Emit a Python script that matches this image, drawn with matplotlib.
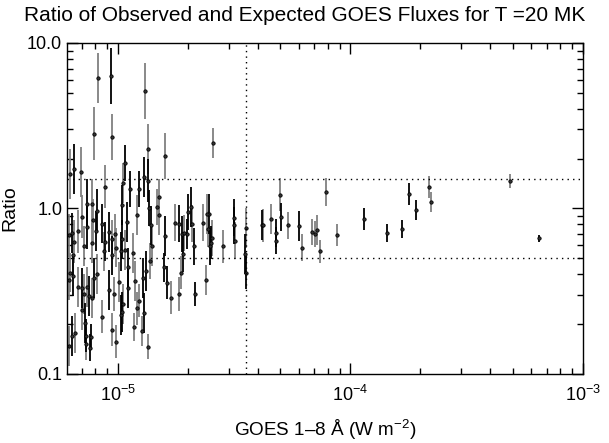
import numpy as np
import matplotlib
matplotlib.use("Agg")
import matplotlib.pyplot as plt
from matplotlib.ticker import LogLocator, FixedLocator, NullFormatter

plt.rcParams['font.family'] = ['Liberation Sans', 'DejaVu Sans']
plt.rcParams['mathtext.fontset'] = 'custom'
plt.rcParams['mathtext.rm'] = 'Liberation Sans'
plt.rcParams['mathtext.it'] = 'Liberation Sans'

# flare set drawn with black error bars: GOES flux (W m^-2), ratio, log10 error
flux_a = [9.33e-6, 6.47e-6, 1.07e-5, 1.04e-5, 1.13e-5, 1.23e-5, 1.29e-5, 1.35e-5,
          7.36e-6, 1.36e-5, 2.06e-5, 2.00e-5, 1.98e-5, 1.79e-4, 8.13e-6, 7.36e-6,
          6.35e-6, 8.05e-6, 8.54e-6, 8.79e-6, 9.15e-6, 9.42e-6, 1.09e-5, 1.03e-5,
          1.39e-5, 1.59e-5, 1.83e-5, 1.88e-5, 2.12e-5, 1.90e-5, 2.46e-5, 2.48e-5,
          3.15e-5, 3.15e-5, 3.51e-5, 3.55e-5, 4.15e-5, 4.77e-5, 4.81e-5, 5.01e-5,
          6.04e-5, 1.14e-4, 1.44e-4, 1.67e-4, 1.92e-4, 6.47e-4, 1.04e-5, 2.51e-5,
          6.41e-6, 7.01e-6, 7.51e-6, 7.89e-6, 7.21e-6, 6.35e-6, 7.29e-6, 7.58e-6,
          7.66e-6, 9.15e-6, 1.03e-5, 1.04e-5, 1.10e-5, 1.10e-5, 1.28e-5, 1.32e-5,
          1.58e-5, 1.62e-5, 2.14e-5, 1.29e-5]
ratio_a = [6.32, 1.73, 1.88, 1.05, 1.31, 1.31, 1.55, 1.47,
           1.06, 1.01, 1.02, 0.95, 0.70, 1.22, 0.966, 0.77,
           0.71, 0.73, 0.81, 0.63, 0.72, 0.52, 0.83, 0.55,
           0.79, 0.68, 0.81, 0.70, 0.59, 0.53, 0.93, 0.59,
           0.88, 0.79, 0.53, 0.41, 0.79, 0.71, 0.64, 0.89,
           0.78, 0.86, 0.71, 0.75, 0.98, 0.66, 0.65, 0.62,
           0.39, 0.33, 0.296, 0.38, 0.203, 0.17, 0.17, 0.144,
           0.167, 0.32, 0.227, 0.237, 0.33, 0.44, 0.38, 0.42,
           0.44, 0.355, 0.304, 0.234]
err_a = [0.17, 0.15, 0.11, 0.12, 0.11, 0.11, 0.12, 0.13,
         0.15, 0.11, 0.12, 0.11, 0.09, 0.066, 0.13, 0.13,
         0.12, 0.12, 0.12, 0.12, 0.12, 0.12, 0.12, 0.12,
         0.12, 0.12, 0.11, 0.11, 0.11, 0.11, 0.12, 0.11,
         0.11, 0.11, 0.12, 0.10, 0.09, 0.085, 0.08, 0.085,
         0.09, 0.066, 0.055, 0.055, 0.06, 0.02, 0.12, 0.10,
         0.12, 0.12, 0.12, 0.12, 0.12, 0.12, 0.10, 0.08,
         0.08, 0.12, 0.12, 0.12, 0.12, 0.12, 0.12, 0.12,
         0.09, 0.10, 0.07, 0.12]

# flare set drawn with grey error bars
flux_b = [8.21e-6, 7.89e-6, 9.42e-6, 1.31e-5, 1.35e-5, 1.59e-5, 2.56e-5, 6.22e-6,
          6.94e-6, 1.05e-5, 8.79e-6, 1.50e-5, 7.73e-6, 7.82e-5, 4.96e-5, 2.18e-4,
          4.86e-4, 2.23e-4, 7.01e-6, 7.81e-6, 6.74e-6, 6.47e-6, 6.16e-6, 7.15e-6,
          7.73e-6, 8.71e-6, 9.42e-6, 1.21e-5, 9.80e-6, 1.07e-5, 1.16e-5, 1.40e-5,
          1.48e-5, 1.51e-5, 1.76e-5, 1.92e-5, 2.08e-5, 2.32e-5, 2.41e-5, 2.43e-5,
          2.53e-5, 2.82e-5, 3.18e-5, 3.55e-5, 4.23e-5, 4.54e-5, 5.37e-5, 6.17e-5,
          6.81e-5, 7.08e-5, 7.16e-5, 7.37e-5, 8.80e-5, 9.71e-6, 6.41e-6, 1.37e-5,
          6.22e-6, 6.16e-6, 6.74e-6, 7.36e-6, 7.15e-6, 7.73e-6, 8.13e-6, 7.01e-6,
          6.53e-6, 6.16e-6, 7.29e-6, 8.54e-6, 9.61e-6, 9.42e-6, 9.80e-6, 1.01e-5,
          1.05e-5, 1.19e-5, 1.17e-5, 1.21e-5, 1.23e-5, 1.27e-5, 1.35e-5, 1.69e-5,
          1.83e-5, 1.86e-5, 2.39e-5]
ratio_b = [6.14, 2.82, 2.70, 5.13, 2.29, 2.08, 2.49, 1.62,
           1.66, 1.43, 1.35, 1.17, 1.06, 1.26, 1.21, 1.35,
           1.47, 1.09, 0.89, 0.85, 0.73, 0.63, 0.69, 0.59,
           0.62, 0.55, 0.65, 0.91, 0.58, 0.56, 0.54, 0.59,
           1.02, 0.91, 0.82, 0.71, 0.81, 0.82, 0.93, 0.75,
           0.66, 0.59, 0.64, 0.76, 0.79, 0.86, 0.79, 0.58,
           0.72, 0.70, 0.74, 0.55, 0.69, 0.70, 0.52, 0.48,
           0.41, 0.37, 0.336, 0.336, 0.304, 0.288, 0.40, 0.244,
           0.177, 0.148, 0.152, 0.221, 0.304, 0.185, 0.156, 0.36,
           0.265, 0.365, 0.192, 0.25, 0.276, 0.182, 0.146, 0.288,
           0.304, 0.41, 0.37]
err_b = [0.15, 0.16, 0.14, 0.17, 0.15, 0.14, 0.09, 0.15,
         0.15, 0.12, 0.13, 0.11, 0.15, 0.085, 0.10, 0.066,
         0.042, 0.06, 0.13, 0.13, 0.13, 0.13, 0.13, 0.12,
         0.12, 0.12, 0.12, 0.12, 0.12, 0.12, 0.12, 0.12,
         0.11, 0.12, 0.11, 0.11, 0.11, 0.11, 0.12, 0.11,
         0.11, 0.10, 0.11, 0.12, 0.10, 0.09, 0.08, 0.08,
         0.08, 0.08, 0.09, 0.07, 0.065, 0.12, 0.13, 0.11,
         0.12, 0.12, 0.12, 0.12, 0.12, 0.12, 0.12, 0.12,
         0.12, 0.12, 0.10, 0.10, 0.10, 0.10, 0.10, 0.12,
         0.12, 0.12, 0.085, 0.10, 0.10, 0.09, 0.075, 0.10,
         0.10, 0.10, 0.09]

ratio_hi = 1.5
ratio_lo = 0.5
flux_cut = 3.55e-5
title = "Ratio of Observed and Expected GOES Fluxes for T =20 MK"


def log_err(y, d):
    y = np.asarray(y)
    d = np.asarray(d)
    return [y - y / 10**d, y * 10**d - y]


fig = plt.figure(figsize=(6.09, 4.43), dpi=100)
ax = fig.add_axes([0.110, 0.156, 0.847, 0.747])

ax.errorbar(flux_b, ratio_b, yerr=log_err(ratio_b, err_b), fmt='none',
            ecolor='#808080', elinewidth=1.3, capsize=0)
ax.errorbar(flux_a, ratio_a, yerr=log_err(ratio_a, err_a), fmt='none',
            ecolor='black', elinewidth=1.3, capsize=0)
ax.plot(flux_a + flux_b, ratio_a + ratio_b, 'o', ms=2.4, mfc='#333333',
        mec='black', mew=0.6, ls='none')

ax.axhline(ratio_hi, color='black', ls=(0, (1, 3)), lw=1)
ax.axhline(ratio_lo, color='black', ls=(0, (1, 3)), lw=1)
ax.axvline(flux_cut, color='black', ls=(0, (1, 3)), lw=1)

ax.set_xscale('log')
ax.set_yscale('log')
ax.set_xlim(6.04e-6, 1e-3)
ax.set_ylim(0.1, 10)

ax.xaxis.set_major_locator(LogLocator(base=10, numticks=10))
ax.xaxis.set_minor_locator(LogLocator(base=10, subs=np.arange(2, 10), numticks=20))
ax.xaxis.set_minor_formatter(NullFormatter())
ax.yaxis.set_major_locator(FixedLocator([0.1, 1.0, 10.0]))
ax.set_yticklabels(['0.1', '1.0', '10.0'])
ax.yaxis.set_minor_locator(LogLocator(base=10, subs=np.arange(2, 10), numticks=20))
ax.yaxis.set_minor_formatter(NullFormatter())

ax.tick_params(which='both', direction='in', top=True, right=True, labelsize=13,
               width=1)
ax.tick_params(which='major', length=8)
ax.tick_params(which='minor', length=4)
ax.tick_params(axis='x', pad=8)
for s in ax.spines.values():
    s.set_linewidth(1)

ax.set_xlabel('GOES 1\u20138 \u00c5 (W m$^{-2}$)', fontsize=13.6, labelpad=9)
ax.set_ylabel('Ratio', fontsize=14, labelpad=6)
fig.text(0.5, 0.966, title, ha='center', va='center', fontsize=15)

fig.savefig('out.png', dpi=100)
